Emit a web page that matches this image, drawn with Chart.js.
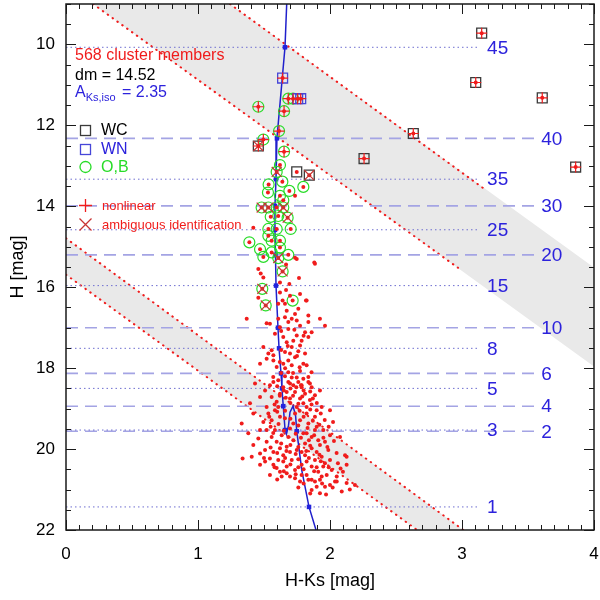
<!DOCTYPE html>
<html>
<head>
<meta charset="utf-8">
<script src="https://cdn.jsdelivr.net/npm/chart.js@4.4.0/dist/chart.umd.min.js"></script>
<style>html,body{margin:0;padding:0;background:#fff}</style>
</head>
<body>
<canvas id="cmd" width="600" height="600"></canvas>
<script>
// axis ticks
const xTicks = [0, 1, 2, 3, 4];
const yTicks = [10, 12, 14, 16, 18, 20, 22];

// isochrone mass points (H of each mass) and their labels
const massLabels = ['45', '40', '35', '30', '25', '20', '15', '10', '8', '6', '5', '4', '3', '2', '1'];
const massH = [10.07, 12.32, 13.33, 13.99, 14.58, 15.20, 15.96, 17.00, 17.51, 18.13, 18.50, 18.94, 19.53, 19.56, 21.43];
const massC = [1.659, 1.598, 1.591, 1.583, 1.583, 1.587, 1.591, 1.606, 1.614, 1.629, 1.636, 1.646, 1.659, 1.748, 1.841];

// isochrone curve (H-Ks, H)
const isoC = [1.672, 1.659, 1.598, 1.591, 1.583, 1.583, 1.587, 1.591, 1.606, 1.614, 1.629, 1.636, 1.646, 1.659, 1.670, 1.686, 1.697, 1.720, 1.739, 1.748, 1.786, 1.841, 1.894];
const isoH = [9.00, 10.07, 12.32, 13.33, 13.99, 14.58, 15.20, 15.96, 17.00, 17.51, 18.13, 18.50, 18.94, 19.50, 19.63, 19.41, 19.09, 18.94, 19.16, 19.55, 20.52, 21.43, 22.00];

// reddening bands (corners) and dotted edges
const upperBand = [[0.205, 9.0], [1.242, 9.0], [4.0, 15.51], [4.0, 17.96]];
const lowerBand = [[0.0, 14.79], [3.01, 22.0], [2.66, 22.0], [0.0, 15.69]];
const redLines = [
  [[1.242, 9.0], [3.19, 13.62]],
  [[0.205, 9.0], [2.97, 15.52]],
  [[0.0, 14.79], [3.01, 22.0]],
  [[0.0, 15.69], [2.66, 22.0]]
];

// special stars
const wcStars = [[3.149, 9.72], [3.104, 10.94], [3.608, 11.32], [2.631, 12.20], [2.258, 12.82], [3.861, 13.03], [1.457, 12.51], [1.748, 13.15], [1.843, 13.23]];
const wnStars = [[1.641, 10.83], [1.755, 11.34], [1.778, 11.34]];
const obStars = [[1.457, 11.54], [1.684, 11.34], [1.720, 11.34], [1.652, 11.65], [1.614, 12.14], [1.495, 12.35], [1.652, 12.65],
  [1.621, 12.98], [1.596, 13.15], [1.639, 13.39], [1.535, 13.46], [1.692, 13.62], [1.798, 13.52], [1.530, 13.66], [1.621, 13.74],
  [1.646, 13.85], [1.482, 14.03], [1.533, 14.03], [1.596, 14.03], [1.646, 14.03], [1.551, 14.26], [1.608, 14.24], [1.679, 14.28],
  [1.533, 14.56], [1.596, 14.56], [1.702, 14.56], [1.389, 14.89], [1.533, 14.73], [1.558, 14.85], [1.621, 14.85], [1.470, 15.06],
  [1.621, 15.02], [1.558, 15.14], [1.495, 15.25], [1.608, 15.28], [1.684, 15.20], [1.641, 15.61], [1.487, 16.04], [1.513, 16.45],
  [1.717, 16.33]];
const nonlinear = [[3.149, 9.72], [3.104, 10.94], [3.608, 11.32], [2.631, 12.20], [2.258, 12.82], [3.861, 13.03], [1.641, 10.83],
  [1.755, 11.34], [1.778, 11.34], [1.457, 11.54], [1.684, 11.34], [1.720, 11.34], [1.652, 11.65], [1.614, 12.14], [1.495, 12.35],
  [1.652, 12.65], [1.457, 12.51]];
const ambiguous = [[1.457, 12.51], [1.843, 13.23], [1.596, 13.15], [1.482, 14.03], [1.533, 14.03], [1.646, 14.03], [1.679, 14.28],
  [1.608, 15.28], [1.641, 15.61], [1.487, 16.04], [1.513, 16.45]];

// remaining cluster members (H-Ks, H)
const members = [
  [1.419, 14.53], [1.735, 13.74], [1.886, 15.42], [1.735, 15.27], [1.748, 15.30], [1.667, 15.44], [1.881, 15.39],
  [1.765, 15.77], [1.457, 15.55], [1.475, 15.66], [1.495, 15.76], [1.692, 15.92], [1.667, 16.07], [1.818, 16.33],
  [1.641, 16.33], [1.457, 16.26], [1.621, 15.88], [1.773, 16.17],
  [1.621, 16.13], [1.697, 16.21], [1.823, 16.33], [1.608, 16.41], [1.659, 16.41], [1.760, 16.53], [1.672, 16.58],
  [1.735, 16.66], [1.836, 16.70], [1.659, 16.74], [1.369, 16.78], [1.608, 16.78], [1.710, 16.78], [1.924, 16.78],
  [1.748, 16.82], [1.684, 16.86], [1.836, 16.86], [1.520, 16.89], [1.545, 16.90], [1.773, 16.95], [1.621, 16.99],
  [1.962, 16.95], [1.684, 17.03], [1.583, 17.15], [1.811, 17.11], [1.861, 17.11], [1.748, 17.19], [1.646, 17.23],
  [1.836, 17.23], [1.785, 17.32], [1.722, 17.32], [1.672, 17.36], [1.773, 17.44], [1.495, 17.48], [1.710, 17.48],
  [1.558, 17.56], [1.659, 17.60], [1.760, 17.58], [1.533, 17.64], [1.571, 17.68], [1.697, 17.64], [1.811, 17.64],
  [1.735, 17.73], [1.520, 17.77], [1.571, 17.81], [1.684, 17.81], [1.470, 17.89], [1.646, 17.89], [1.710, 17.93],
  [1.798, 17.89], [1.596, 17.97], [1.823, 17.93], [1.773, 18.07], [1.684, 18.10], [1.659, 18.20], [1.710, 18.23],
  [1.748, 18.23], [1.798, 18.26], [1.836, 18.22], [1.608, 18.30], [1.684, 18.34], [1.760, 18.34], [1.848, 18.38],
  [1.432, 18.38], [1.722, 18.42], [1.785, 18.47], [1.646, 18.47],
  [1.571, 18.34], [1.697, 18.38], [1.785, 18.42], [1.861, 18.47], [1.924, 18.55], [1.508, 18.55], [1.672, 18.59],
  [1.735, 18.59], [1.811, 18.63], [1.886, 18.67], [1.470, 18.71], [1.558, 18.71], [1.697, 18.75], [1.773, 18.75],
  [1.848, 18.79], [1.596, 18.83], [1.798, 18.87], [1.937, 18.96], [2.000, 19.04], [1.394, 18.87], [1.331, 19.37],
  [1.419, 19.12], [1.533, 19.12], [1.583, 19.04], [1.735, 19.12], [1.823, 19.12], [1.886, 19.20], [1.773, 19.29],
  [1.558, 19.29], [1.495, 19.33], [1.621, 19.20], [1.836, 19.37], [1.899, 19.45], [1.949, 19.53], [1.583, 19.53],
  [1.697, 19.49], [1.798, 19.61], [1.634, 19.66], [1.861, 19.70], [2.000, 19.66], [2.076, 19.70], [1.722, 19.78],
  [1.596, 19.82], [1.520, 19.82], [1.419, 19.90], [1.811, 19.86], [1.924, 19.90], [1.672, 19.94], [1.508, 20.02],
  [1.571, 20.07], [1.748, 20.02], [1.861, 19.98], [1.987, 20.02], [1.646, 20.15], [1.811, 20.15], [1.937, 20.19],
  [1.545, 20.23], [1.608, 20.27], [1.710, 20.27], [1.886, 20.27], [2.000, 20.27], [2.126, 20.19], [1.470, 20.39],
  [1.571, 20.39], [1.672, 20.43], [1.785, 20.39], [1.861, 20.43], [1.949, 20.43], [1.338, 20.23], [1.407, 20.19],
  [1.621, 20.56], [1.735, 20.52], [1.911, 20.56], [2.013, 20.52], [1.545, 20.64], [1.823, 20.64], [1.975, 20.64],
  [1.697, 20.68], [1.861, 20.76], [1.773, 20.80], [2.051, 20.68], [1.924, 20.76], [1.886, 20.80], [2.126, 20.84],
  [2.000, 20.89], [2.089, 21.05], [2.189, 20.89],
  [1.457, 19.74], [1.558, 19.70], [1.684, 19.70], [1.911, 19.78], [1.962, 19.82], [1.470, 20.11], [1.621, 19.98],
  [1.697, 20.07], [1.785, 20.07], [1.899, 20.07], [1.508, 20.31], [1.646, 20.31], [1.823, 20.31], [1.962, 20.35],
  [1.596, 20.47], [1.760, 20.45], [1.899, 20.45], [1.672, 20.60], [1.785, 20.64], [1.937, 20.68], [1.634, 20.68],
  [1.735, 20.72], [1.836, 20.76], [2.038, 20.80], [1.962, 20.93], [1.899, 20.93], [1.861, 21.01], [1.924, 21.09],
  [1.823, 19.61], [1.886, 19.53], [1.722, 19.37], [1.659, 19.24], [1.520, 19.53], [1.470, 19.53], [1.381, 19.61],
  [1.608, 18.96], [1.748, 18.96], [1.823, 18.96], [1.899, 19.04], [1.520, 18.96], [1.621, 18.63], [1.545, 18.42],
  [1.836, 18.34], [2.023, 19.33], [2.114, 20.15], [2.126, 20.39], [2.098, 20.56], [2.051, 20.80],
  [1.600, 18.45], [1.650, 18.55], [1.700, 18.50], [1.745, 18.47], [1.800, 18.55], [1.850, 18.58], [1.620, 18.68],
  [1.665, 18.73], [1.720, 18.68], [1.790, 18.70], [1.870, 18.75], [1.580, 18.90], [1.700, 18.86], [1.760, 18.88],
  [1.860, 18.90], [1.900, 18.86], [1.600, 19.08], [1.660, 19.05], [1.770, 19.05], [1.850, 19.02], [1.930, 19.12],
  [1.540, 19.20], [1.700, 19.25], [1.800, 19.20], [1.870, 19.30], [1.960, 19.28], [1.610, 19.38], [1.760, 19.42],
  [1.830, 19.48], [1.920, 19.40], [1.990, 19.45], [1.550, 19.45], [1.650, 19.55], [1.570, 19.60], [1.740, 19.62],
  [1.780, 19.72], [1.840, 19.78], [1.880, 19.66], [1.950, 19.72], [2.030, 19.80], [1.630, 19.86], [1.700, 19.90],
  [1.760, 19.95], [1.850, 19.92], [1.980, 19.95], [1.550, 19.96], [1.600, 20.10], [1.670, 20.05], [1.740, 20.12],
  [1.820, 20.05], [1.920, 20.14], [2.050, 20.10], [1.500, 20.22], [1.660, 20.22], [1.760, 20.25], [1.840, 20.22],
  [1.930, 20.30], [2.060, 20.35], [1.580, 20.45], [1.700, 20.38], [1.800, 20.50], [1.880, 20.55], [1.990, 20.45],
  [2.080, 20.48], [1.650, 20.55], [1.740, 20.62], [1.600, 20.75], [1.800, 20.85], [1.940, 20.85], [2.020, 20.95],
  [1.760, 20.95], [1.850, 21.10], [1.970, 21.12], [2.150, 21.00], [1.630, 17.08], [1.730, 17.05], [1.800, 17.20],
  [1.680, 17.45], [1.630, 17.55], [1.750, 17.70], [1.620, 17.85], [1.770, 17.98], [1.660, 18.00], [1.720, 18.12],
  [1.630, 18.12], [1.860, 18.10], [1.570, 18.22], [1.780, 18.42]
];

const RED = '#f01c1c';
const BLUE = '#2c22dc';
const FONT = "'Liberation Sans', Arial, Helvetica, sans-serif";

function pts(list) {
  return list.map(p => ({x: p[0], y: p[1]}));
}

const datasets = [];

[upperBand, lowerBand].forEach(b => {
  datasets.push({
    data: pts(b), showLine: true, fill: 'shape', backgroundColor: '#e9e9e9',
    borderWidth: 0, pointRadius: 0, order: 20
  });
});

redLines.forEach(l => {
  datasets.push({
    data: pts(l), showLine: true, borderColor: RED, borderWidth: 2, borderDash: [0.5, 5.5],
    borderCapStyle: 'round', pointRadius: 0, order: 15
  });
});

massH.forEach((h, i) => {
  const dashed = i % 2 === 1;
  datasets.push({
    data: [{x: 0, y: h}, {x: dashed ? 3.55 : 3.12, y: h}], showLine: true,
    borderColor: dashed ? '#a4a4e4' : '#6e6ed0', borderWidth: dashed ? 1.6 : 1,
    borderDash: dashed ? [12, 7] : [1.5, 3], pointRadius: 0, order: 14
  });
});

datasets.push({
  data: isoC.map((c, i) => ({x: c, y: isoH[i]})), showLine: true, borderColor: '#2020cc',
  borderWidth: 1.5, pointRadius: 0, order: 12
});
datasets.push({
  data: massC.map((c, i) => ({x: c, y: massH[i]})), pointStyle: 'rect', pointRadius: 3.2,
  backgroundColor: '#2222dd', borderWidth: 0, order: 11
});
datasets.push({
  data: pts(members.concat(wcStars, wnStars, obStars)), pointRadius: 2,
  backgroundColor: RED, borderWidth: 0, order: 5
});
datasets.push({
  data: pts(obStars), pointStyle: 'circle', pointRadius: 5.5, backgroundColor: 'rgba(0,0,0,0)',
  borderColor: '#28dc28', borderWidth: 1.2, order: 9
});
datasets.push({
  data: pts(wcStars), pointStyle: 'rect', pointRadius: 7, backgroundColor: 'rgba(0,0,0,0)',
  borderColor: '#3a3a3a', borderWidth: 1.3, order: 8
});
datasets.push({
  data: pts(wnStars), pointStyle: 'rect', pointRadius: 7, backgroundColor: 'rgba(0,0,0,0)',
  borderColor: '#4646d8', borderWidth: 1.3, order: 8
});
datasets.push({
  data: pts(nonlinear), pointStyle: 'cross', pointRadius: 5.5, borderColor: RED,
  borderWidth: 1.2, order: 4
});
datasets.push({
  data: pts(ambiguous), pointStyle: 'crossRot', pointRadius: 7, borderColor: '#c83434',
  borderWidth: 1.2, order: 4
});

// inward ticks + frame
const frameTicks = {
  id: 'frameTicks',
  afterDraw(chart) {
    const {ctx, chartArea: a, scales: {x, y}} = chart;
    ctx.save();
    ctx.strokeStyle = '#1a1a1a';
    ctx.lineWidth = 1;
    ctx.beginPath();
    for (let i = 0; i <= 40; i++) {
      const px = Math.round(x.getPixelForValue(i / 10)) + 0.5;
      const len = i % 10 === 0 ? 10 : 5;
      ctx.moveTo(px, a.bottom); ctx.lineTo(px, a.bottom - len);
      ctx.moveTo(px, a.top); ctx.lineTo(px, a.top + len);
    }
    for (let i = 18; i <= 44; i++) {
      const py = Math.round(y.getPixelForValue(i / 2)) + 0.5;
      const len = i % 4 === 0 ? 10 : 5;
      ctx.moveTo(a.left, py); ctx.lineTo(a.left + len, py);
      ctx.moveTo(a.right, py); ctx.lineTo(a.right - len, py);
    }
    ctx.stroke();
    ctx.lineWidth = 1.5;
    ctx.strokeRect(a.left, a.top, a.right - a.left, a.bottom - a.top);
    ctx.restore();
  }
};

// mass labels, in-plot legend and annotations
const annotations = {
  id: 'annotations',
  afterDatasetsDraw(chart) {
    const {ctx, scales: {x, y}} = chart;
    ctx.save();
    ctx.textBaseline = 'middle';
    ctx.font = '19px ' + FONT;
    ctx.fillStyle = BLUE;
    massLabels.forEach((t, i) => {
      const lx = x.getPixelForValue(i % 2 === 1 ? 3.6 : 3.19);
      ctx.fillText(t, lx, y.getPixelForValue(massH[i]) + 1);
    });

    ctx.textBaseline = 'alphabetic';
    ctx.font = '16px ' + FONT;
    ctx.fillStyle = RED;
    ctx.fillText('568 cluster members', 75, 60);
    ctx.fillStyle = '#000';
    ctx.fillText('dm = 14.52', 75, 80);
    ctx.fillStyle = BLUE;
    ctx.fillText('A', 75, 97);
    let w = ctx.measureText('A').width;
    ctx.font = '11px ' + FONT;
    ctx.fillText('Ks,iso', 75 + w, 101);
    w += ctx.measureText('Ks,iso').width;
    ctx.font = '16px ' + FONT;
    ctx.fillText(' = 2.35', 75 + w + 2, 97);

    // legend symbols
    ctx.lineWidth = 1.3;
    ctx.strokeStyle = '#3a3a3a';
    ctx.strokeRect(80.5, 125.5, 10, 10);
    ctx.strokeStyle = '#4646d8';
    ctx.strokeRect(80.5, 144.5, 10, 10);
    ctx.strokeStyle = '#28dc28';
    ctx.beginPath(); ctx.arc(85.5, 167, 5.5, 0, Math.PI * 2); ctx.stroke();
    ctx.strokeStyle = RED;
    ctx.beginPath();
    ctx.moveTo(79, 205.5); ctx.lineTo(92, 205.5);
    ctx.moveTo(85.5, 199); ctx.lineTo(85.5, 212);
    ctx.stroke();
    ctx.strokeStyle = '#c83434';
    ctx.beginPath();
    ctx.moveTo(79.5, 218.5); ctx.lineTo(91.5, 230.5);
    ctx.moveTo(91.5, 218.5); ctx.lineTo(79.5, 230.5);
    ctx.stroke();

    ctx.textBaseline = 'middle';
    ctx.fillStyle = '#000';
    ctx.fillText('WC', 101, 131);
    ctx.fillStyle = BLUE;
    ctx.fillText('WN', 101, 150);
    ctx.fillStyle = '#28dc28';
    ctx.fillText('O,B', 101, 168);
    ctx.font = '13px ' + FONT;
    ctx.fillStyle = RED;
    ctx.fillText('nonlinear', 102, 206);
    ctx.fillText('ambiguous identification', 102, 225);
    ctx.restore();
  }
};

new Chart(document.getElementById('cmd'), {
  type: 'scatter',
  data: {datasets: datasets},
  options: {
    responsive: false,
    animation: false,
    events: [],
    layout: {autoPadding: false, padding: {top: 4, right: 6, left: 0, bottom: 0}},
    plugins: {legend: {display: false}, tooltip: {enabled: false}},
    scales: {
      x: {
        type: 'linear', min: 0, max: 4,
        afterBuildTicks: s => { s.ticks = xTicks.map(v => ({value: v})); },
        afterFit: s => { s.height = 70; s.paddingLeft = 0; s.paddingRight = 0; },
        grid: {display: false, drawTicks: false},
        border: {display: false},
        ticks: {color: '#000', padding: 14, autoSkip: false, maxRotation: 0, font: {size: 17, family: FONT}},
        title: {display: true, text: 'H-Ks [mag]', color: '#000', font: {size: 18, family: FONT}, padding: {bottom: 8}}
      },
      y: {
        type: 'linear', min: 9, max: 22, reverse: true,
        afterBuildTicks: s => { s.ticks = yTicks.map(v => ({value: v})); },
        afterFit: s => { s.width = 66; s.paddingTop = 0; s.paddingBottom = 0; },
        grid: {display: false, drawTicks: false},
        border: {display: false},
        ticks: {color: '#000', padding: 11, autoSkip: false, font: {size: 17, family: FONT}},
        title: {display: true, text: 'H [mag]', color: '#000', font: {size: 18, family: FONT}, padding: {top: 7}}
      }
    }
  },
  plugins: [frameTicks, annotations]
});
</script>
</body>
</html>
